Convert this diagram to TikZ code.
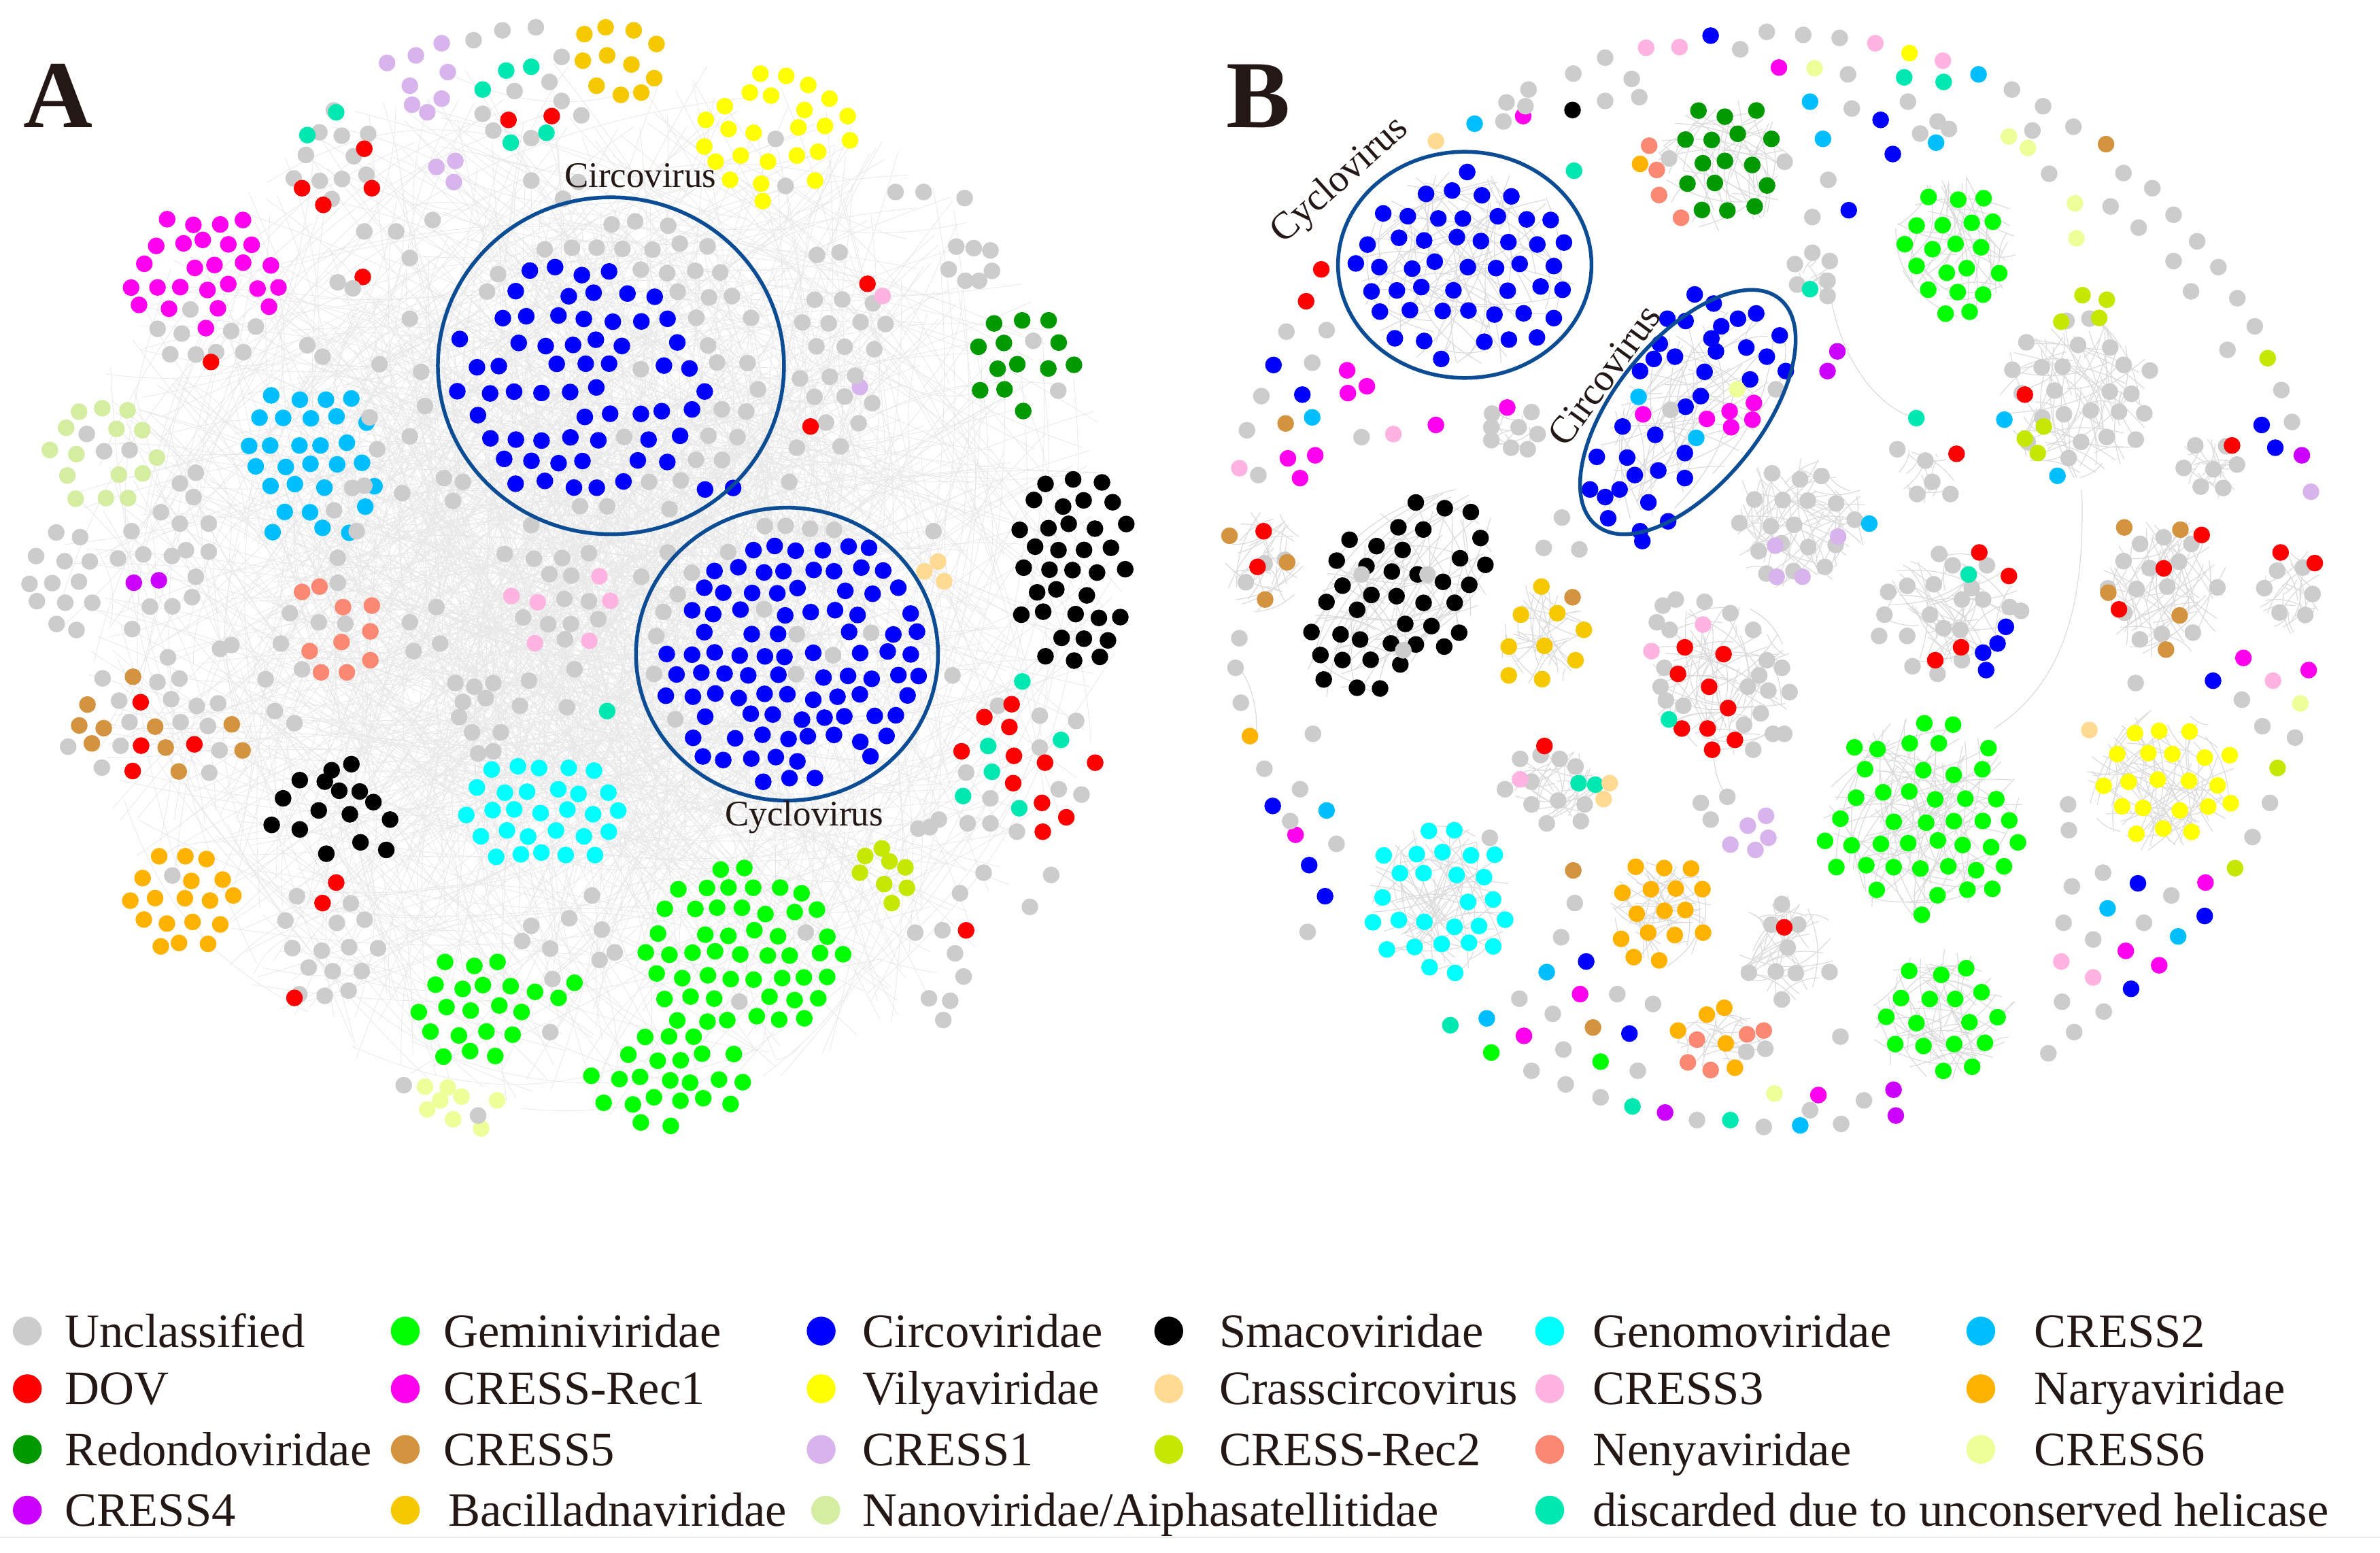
\documentclass[tikz,border=0pt]{standalone}
\usepackage{fontspec}
\setmainfont{Liberation Serif}
\definecolor{cgray}{HTML}{CCCCCC}
\definecolor{cred}{HTML}{FF0000}
\definecolor{cdgreen}{HTML}{009900}
\definecolor{cpurple}{HTML}{CC00FF}
\definecolor{cgreen}{HTML}{00FF00}
\definecolor{cmag}{HTML}{FF00EE}
\definecolor{cbrown}{HTML}{D4933F}
\definecolor{cgold}{HTML}{F5C800}
\definecolor{cblue}{HTML}{0000FF}
\definecolor{cyellow}{HTML}{FFFF00}
\definecolor{clav}{HTML}{D8B4EC}
\definecolor{clgreen}{HTML}{D4EDA0}
\definecolor{cblack}{HTML}{000000}
\definecolor{clorange}{HTML}{FFDA90}
\definecolor{cyg}{HTML}{C4E800}
\definecolor{ccyan}{HTML}{00FFFF}
\definecolor{cpink}{HTML}{FFB3E0}
\definecolor{csalmon}{HTML}{FA8872}
\definecolor{cteal}{HTML}{00E8B2}
\definecolor{clblue}{HTML}{00BFFF}
\definecolor{corange}{HTML}{FFB300}
\definecolor{clyellow}{HTML}{EEFF99}
\definecolor{ring}{HTML}{0B4C95}
\definecolor{txt}{HTML}{231815}
\newcommand\dotr{11}
\def\bix{0}\def\biy{0}\def\birx{5000}\def\biry{5000}
\def\bcolT{cred}\def\bpT{0}
\newcommand\setin[4]{\gdef\bix{#1}\gdef\biy{#2}\gdef\birx{#3}\gdef\biry{#4}}
\newcommand\noin{\gdef\bix{0}\gdef\biy{0}\gdef\birx{5000}\gdef\biry{5000}}
\newcommand\blob[9]{%
 \pgfmathtruncatemacro\bnx{#3/#5+1}%
 \pgfmathtruncatemacro\bny{#4/(#5*0.866)+1}%
 \pgfmathtruncatemacro\bmx{-\bnx}%
 \pgfmathtruncatemacro\bmy{-\bny}%
 \pgfmathsetmacro\bth{1-\bpT}%
 \foreach \j in {\bmy,...,\bny}{%
  \foreach \i in {\bmx,...,\bnx}{%
   \pgfmathsetmacro\bpx{#1+(\i+0.5*mod(abs(\j),2))*#5+(rnd-0.5)*#5*0.3}%
   \pgfmathsetmacro\bpy{#2+\j*#5*0.866+(rnd-0.5)*#5*0.3}%
   \pgfmathsetmacro\bins{((\bpx-#1)/#3)^2+((\bpy-#2)/#4)^2}%
   \pgfmathsetmacro\binn{((\bpx-\bix)/\birx)^2+((\bpy-\biy)/\biry)^2}%
   \pgfmathsetmacro\brd{rnd}%
   \pgfmathsetmacro\brc{rnd}%
   \ifdim\bins pt<1pt
    \ifdim\brd pt<#6pt
     \ifdim\binn pt<1pt
      \ifdim\brc pt<#8pt
       \fill[#7] (\bpx,\bpy) circle (\dotr);
      \else
       \ifdim\brc pt>\bth pt
        \fill[\bcolT] (\bpx,\bpy) circle (\dotr);
       \else
        \fill[#9] (\bpx,\bpy) circle (\dotr);
       \fi
      \fi
     \else
      \fill[#9] (\bpx,\bpy) circle (\dotr);
     \fi
    \fi
   \fi
  }}}
\newcommand\hz[6]{%
 \foreach \k in {1,...,#5}{%
  \pgfmathsetmacro\haa{rnd*360}\pgfmathsetmacro\hra{sqrt(rnd)}%
  \pgfmathsetmacro\hab{rnd*360}\pgfmathsetmacro\hrb{sqrt(rnd)}%
  \draw[#6] ({#1+#3*\hra*cos(\haa)},{#2+#4*\hra*sin(\haa)}) to ({#1+#3*\hrb*cos(\hab)},{#2+#4*\hrb*sin(\hab)});
 }}
\newcommand\dotlist[2]{\foreach \xx/\yy in {#2}{\fill[#1] (\xx,\yy) circle (\dotr);}}
\newcommand\leg[6]{\fill[#5] (#2,#4) circle (9.5); \node[lg] (#1) at (#3,#4+10.5) {#6};}
\tikzset{
 lg/.style={anchor=base west, inner sep=0pt, font=\fontsize{18}{20}\selectfont, text=txt},
 hzA/.style={draw=black!9, line width=0.2pt, bend left=22},
 hzB/.style={draw=black!14, line width=0.3pt, bend left=18},
 ringline/.style={draw=ring, line width=1.4pt},
 vlab/.style={inner sep=0pt, text=txt, font=\fontsize{13.5}{15}\selectfont},
 panel/.style={inner sep=0pt, anchor=base west, text=txt, font=\fontsize{36}{40}\selectfont\bfseries}
}
\begin{document}
\begin{tikzpicture}[x=0.02cm,y=-0.02cm]
\pgfmathsetseed{7}
\fill[white] (0,0) rectangle (1568,1023);
\path[use as bounding box] (0,0) rectangle (1568,1023);
% ================= PANEL A =================
\begin{scope}[scale=0.5]
\hz{780}{770}{700}{700}{900}{hzA}
\hz{780}{720}{450}{450}{450}{hzA}
% CRESS1, top
\dotlist{clav}{510/83,548/73,582/57,590/95,540/113,582/130,543/138,563/148,575/220,600/212,598/240,1133/510}
\dotlist{cgray}{624/53,662/40,706/36,678/120,724/108,740/133,636/150,650/172,700/182,766/152,700/238,742/262,762/240,1022/183,1035/245,740/75}
\dotlist{cteal}{667/93,700/88,636/118,673/188,720/175,800/937}
\dotlist{cred}{670/158,727/153}
\dotlist{cgold}{770/45,798/36,835/40,865/58,800/73,832/85,768/80,862/103,786/113,818/125,845/122}
\dotlist{cyellow}{1002/97,1036/100,1065/112,1093/130,955/140,988/122,1016/126,1060/145,1117/153,930/158,960/170,993/175,1052/168,1087/166,1120/185,928/193,976/205,1012/213,1050/205,1078/200,943/213,962/237,1003/242,1074/238,1005/265}
% Circovirus
\setin{755}{500}{178}{155}\blob{805}{482}{210}{206}{36}{0.8}{cblue}{0.88}{cgray}\noin
\dotlist{cblue}{929/645,966/643}
% Cyclovirus
\setin{1062}{885}{190}{185}\blob{1037}{862}{182}{176}{32}{0.93}{cblue}{0.96}{cgray}\noin
% Redondoviridae
\blob{1345}{483}{72}{72}{35}{0.95}{cdgreen}{0.82}{cgray}
% Smacoviridae
\blob{1413}{752}{82}{135}{34}{0.97}{cblack}{1}{cblack}
% red/teal group
\dotlist{cgray}{1315/930,1370/943,1418/950,1370/985,1305/1052,1275/1085,1340/1096,1395/1040,1425/1047,1273/1018,1305/1085}
\dotlist{cred}{1297/945,1333/928,1330/958,1267/990,1336/996,1377/1005,1443/1005,1335/1032,1373/1058,1405/1077,1374/1096}
\dotlist{cteal}{1347/898,1302/983,1307/1017,1269/1049,1343/1065,1398/975}
\dotlist{clorange}{1218/753,1236/740,1244/766}
\dotlist{cyg}{1140/1128,1162/1118,1172/1135,1193/1143,1133/1150,1165/1165,1195/1170,1175/1190}
\blob{1238}{1285}{55}{70}{34}{0.7}{cgray}{1}{cgray}
\dotlist{cred}{1273/1226}
% Geminiviridae
\blob{978}{1258}{136}{116}{33}{0.97}{cgreen}{0.95}{cgray}
\blob{880}{1422}{120}{62}{33}{0.95}{cgreen}{0.95}{cgray}
\blob{622}{1330}{76}{84}{34}{0.95}{cgreen}{0.95}{cgray}
\dotlist{cgreen}{705/1307,736/1315,757/1295}
\dotlist{clyellow}{560/1432,590/1433,580/1450,563/1462,597/1475,634/1487,655/1450,608/1445}
\dotlist{cgray}{532/1430,630/1470}
% Genomoviridae
\blob{715}{1070}{103}{84}{33}{0.97}{ccyan}{1}{ccyan}
\dotlist{cgray}{700/1220,688/1240,725/1250,780/1180,793/1225,810/1255,790/1265,725/1360,750/1210,728/1290}
% small black group
\dotlist{cblack}{395/1028,437/1015,463/1007,428/1030,447/1042,474/1043,492/1057,373/1052,420/1068,461/1073,514/1080,358/1087,395/1093,475/1110,509/1120,430/1125}
\blob{425}{1248}{85}{92}{36}{0.85}{cgray}{1}{cgray}
\dotlist{cred}{443/1163,425/1190,388/1315}
% Naryaviridae
\blob{240}{1185}{75}{75}{33}{0.95}{corange}{0.93}{cgray}
% CRESS5
\def\bcolT{cred}\def\bpT{0.12}
\blob{205}{955}{125}{92}{34}{0.92}{cbrown}{0.3}{cgray}
\def\bpT{0}
% Nanoviridae
\blob{135}{598}{85}{72}{34}{0.97}{clgreen}{0.93}{cgray}
% CRESS4 region
\setin{205}{785}{45}{40}\blob{140}{765}{118}{80}{35}{0.8}{cpurple}{0.9}{cgray}\noin
\dotlist{cgray}{237/637,258/623,255/655,237/690,275/690,212/675,245/725,275/727,258/760,253/787,290/855,305/850}
% CRESS-Rec1
\setin{265}{350}{125}{90}\blob{270}{378}{113}{108}{33}{0.95}{cmag}{0.95}{cgray}\noin
\dotlist{cred}{278/477}
% top left group
\blob{435}{205}{70}{60}{35}{0.75}{cgray}{1}{cgray}
\dotlist{cred}{398/248,426/270,480/196,490/248,478/365}
\dotlist{cteal}{443/148,405/178}
\dotlist{cgray}{445/372,465/380}
% CRESS2
\blob{410}{612}{90}{116}{34}{0.95}{clblue}{0.92}{cgray}
% Nenyaviridae
\dotlist{cgray}{382/808,370/848,398/882,445/768,420/820,455/822,362/937,388/953,350/895}
\dotlist{csalmon}{398/780,421/773,452/800,490/798,408/858,450/846,488/832,423/886,457/886,488/870}
% CRESS3
\blob{740}{790}{70}{76}{33}{0.9}{cpink}{0.6}{cgray}
% scattered gray
\dotlist{cgray}{555/490,540/575,530/650,585/630,610/635,597/660,665/730,700/692,880/728,845/760,540/820,575/800,545/858,580/848,600/900,625/905,650/900,610/925,640/920,605/945,622/965,660/965,685/930,650/990,630/993,697/897,747/932,757/882,480/305,522/305,570/290,540/340,405/455,425/470,500/480,487/550,497/592,480/640,470/700,445/735,1040/635,1050/590,1180/253,1217/253,1271/261,1260/325,1283/327,1305/330,1250/355,1272/370,1290/370,1307/357,1255/890,1225/1090,1210/1092,1237/1080,1296/1150,1385/1153,1357/1195,1265/1177,1230/700,540/420,560/535}
\blob{1110}{462}{68}{150}{38}{0.65}{cgray}{1}{cgray}
\dotlist{cred}{1143/374,1068/562}
\dotlist{cpink}{1163/390}
% rings and labels
\draw[ringline] (805,482) ellipse [x radius=228, y radius=222];
\draw[ringline] (1037,862) ellipse [x radius=199, y radius=193];
\node[vlab, anchor=base west] (circA) at (743,247) {Circovirus};
\node[vlab, anchor=base west] (cycA) at (955,1088) {Cyclovirus};
\node[panel] (labA) at (30,168) {A};
\end{scope}
% ================= PANEL B =================
\begin{scope}[shift={(784,0)},scale=0.5]
% hazes
\hz{365}{350}{150}{135}{80}{hzB}
\begin{scope}[rotate around={51:(656,543)}]\hz{656}{543}{180}{85}{60}{hzB}\end{scope}
\hz{700}{215}{90}{90}{45}{hzB}
\hz{1010}{325}{85}{95}{45}{hzB}
\hz{1170}{520}{105}{110}{70}{hzB}
\hz{800}{690}{95}{90}{60}{hzB}
\begin{scope}[rotate around={50:(275,785)}]\hz{275}{785}{165}{100}{70}{hzB}\end{scope}
\hz{95}{740}{55}{70}{30}{hzB}
\hz{465}{835}{60}{70}{30}{hzB}
\hz{700}{895}{95}{105}{60}{hzB}
\hz{1000}{805}{95}{80}{50}{hzB}
\hz{1345}{615}{45}{45}{20}{hzB}
\hz{1285}{775}{85}{95}{50}{hzB}
\hz{1450}{775}{45}{60}{25}{hzB}
\hz{1280}{1030}{100}{95}{70}{hzB}
\hz{965}{1080}{135}{135}{90}{hzB}
\hz{990}{1340}{100}{90}{55}{hzB}
\hz{330}{1185}{95}{105}{60}{hzB}
\hz{620}{1203}{70}{72}{40}{hzB}
\hz{785}{1250}{68}{70}{35}{hzB}
\hz{700}{1370}{60}{40}{25}{hzB}
\hz{480}{1035}{65}{50}{30}{hzB}
\hz{420}{565}{40}{30}{15}{hzB}
\hz{820}{362}{30}{30}{10}{hzB}
\hz{970}{625}{40}{40}{15}{hzB}
\draw[hzB, bend left=0] (1175,645) .. controls (1180,800) and (1150,900) .. (1060,960);
\draw[hzB, bend left=0] (845,395) .. controls (860,480) and (910,540) .. (957,551);
\draw[hzB, bend left=0] (65,880) .. controls (95,920) and (90,990) .. (79,970);
\draw[hzB, bend left=0] (690,990) .. controls (690,1020) and (700,1040) .. (708,1050);
% Cyclovirus B
\blob{365}{350}{148}{128}{37}{0.85}{cblue}{1}{cblue}
% Circovirus B
\dotlist{cblue}{665/388,690/400,629/420,653/423,722/420,746/413,777/442,687/446,619/453,693/463,733/458,639/470,611/473,593/489,678/490,738/500,785/489,673/522,653/536,570/562,613/573,536/602,576/603,652/597,617/620,652/630,527/645,566/645,604/662,551/683,593/700,630/687,596/713,760/470,700/430,586/626,547/655}
\dotlist{cmag}{597/546,681/552,711/542,713/563,743/531,741/553}
\dotlist{clblue}{591/523,667/577}
\dotlist{clyellow}{721/513}
\dotlist{cgray}{633/540,772/513}
% Redondoviridae B
\blob{708}{212}{78}{88}{36}{0.92}{cdgreen}{0.88}{cgray}
\dotlist{csalmon}{605/192,615/224,618/257,647/287}
\dotlist{corange}{593/216}
% Geminiviridae top
\blob{1010}{325}{85}{95}{35}{0.95}{cgreen}{1}{cgreen}
% CRESS-Rec2 cluster
\blob{1172}{515}{96}{105}{36}{0.85}{cgray}{1}{cgray}
\dotlist{cyg}{1176/389,1208/395,1148/424,1198/419,1100/578,1125/562,1117/597}
\dotlist{cred}{1100/520}
\dotlist{clblue}{1073/553,1143/627}
% middle gray cluster
\blob{800}{690}{90}{86}{36}{0.9}{cgray}{1}{cgray}
\dotlist{clav}{771/719,854/707,773/760,807/760}
\dotlist{clblue}{895/690}
% small groups
\dotlist{cgray}{398/545,450/543,397/563,433/563,458/572,397/580,423/590,445/592,797/348,820/333,843/344,800/375,840/370,840/390,932/592,969/607,978/635,958/651,1002/651}
\dotlist{cmag}{418/537}
\dotlist{cteal}{817/381}
% Smacoviridae B
\begin{scope}[rotate around={50:(275,785)}]\blob{275}{785}{160}{98}{36}{0.95}{cblack}{1}{cblack}\end{scope}
% left cluster
\blob{95}{742}{50}{62}{34}{0.75}{cgray}{1}{cgray}
\dotlist{cbrown}{52/706,128/741,99/790}
\dotlist{cred}{97/700,89/747}
% gold cluster
\dotlist{cgold}{463/773,436/810,484/808,519/830,420/852,467/851,508/870,420/890,464/895}
\dotlist{cbrown}{504/787}
% red gray cluster
\dotlist{cgray}{623/798,640/790,678/793,712/808,742/830,760/870,780/880,750/890,735/905,762/910,790/912,752/940,768/967,783/967,742/988,730/955,625/880,620/905,627/923,650/930,615/820,632/830}
\dotlist{cred}{652/853,703/862,643/888,684/905,709/933,648/960,682/960,718/975,688/988}
\dotlist{cpink}{676/823,608/858}
\dotlist{cteal}{631/948}
% ring cluster
\dotlist{cgray}{920/780,945/772,980/770,1005/745,1050/745,1030/775,1045/790,1017/790,1080/800,1095/805,915/810,908/838,945/838,975/810,993/828,1015/830,952/878,985/888,1017/870,987/730}
\dotlist{cred}{1040/728,1079/759,982/870,1016/853}
\dotlist{cblue}{1075/826,1064/848,1045/860,1049/883}
\dotlist{cteal}{1026/757}
% right clusters
\blob{1345}{615}{40}{40}{32}{0.8}{cgray}{1}{cgray}
\dotlist{cred}{1373/587}
\blob{1285}{775}{80}{90}{36}{0.85}{cgray}{1}{cgray}
\dotlist{cbrown}{1231/695,1305/698,1210/781,1304/811,1286/856}
\dotlist{cred}{1333/705,1283/749,1224/803}
\blob{1450}{778}{42}{56}{34}{0.8}{cgray}{1}{cgray}
\dotlist{cred}{1437/728,1482/742}
% Vilyaviridae B
\blob{1280}{1030}{98}{92}{38}{0.95}{cyellow}{1}{cyellow}
\dotlist{clorange}{1185/962}
% Geminiviridae big
\blob{965}{1080}{132}{132}{37}{0.95}{cgreen}{1}{cgreen}
\blob{990}{1345}{95}{82}{37}{0.95}{cgreen}{1}{cgreen}
% Genomoviridae B
\blob{330}{1185}{95}{105}{36}{0.95}{ccyan}{1}{ccyan}
% Naryaviridae B
\blob{620}{1203}{70}{72}{36}{0.95}{corange}{1}{corange}
% gray with red
\blob{785}{1250}{66}{68}{36}{0.7}{cgray}{1}{cgray}
\dotlist{cred}{783/1222}
% salmon/orange group
\dotlist{corange}{681/1337,704/1328,643/1358,706/1375,718/1407}
\dotlist{csalmon}{734/1363,756/1358,668/1370,656/1400,686/1410}
\dotlist{cgray}{733/1386,758/1382}
% small mixed group
\dotlist{cgray}{435/1000,462/995,487/1000,508/1010,415/1040,450/1060,485/1055,520/1060,470/1085,515/1082,450/1030}
\dotlist{cred}{467/983}
\dotlist{cpink}{435/1027}
\dotlist{cteal}{512/1032,534/1034}
\dotlist{clorange}{553/1032,545/1053}
% lavender group
\dotlist{clav}{735/1088,759/1075,762/1104,712/1113,745/1120}
\dotlist{cgray}{673/1058,708/1050,686/1080}
% scattered singles
\dotlist{cpink}{601/63,645/62,903/57,992/80,268/572,65/617,1427/897,1148/1267,1190/1288}
\dotlist{cblue}{686/47,910/158,926/203,868/277,110/481,148/520,109/1062,157/1140,178/1181,1412/560,1430/590,1348/897,1249/1164,1337/1207,1240/1303,579/1362,522/1267}
\dotlist{cyellow}{948/70}
\dotlist{cmag}{776/89,439/153,207/488,233/509,208/518,129/604,165/600,145/630,324/560,139/1100,1388/867,1474/883,1338/1163,1233/1253,1277/1272,828/1443,440/1365,514/1310}
\dotlist{cpurple}{1465/600,927/1436,930/1470,626/1466,853/463,840/489}
\dotlist{clav}{1477/648}
\dotlist{clyellow}{823/90,1079/180,1104/195,1166/268,1168/314,1463/927,770/1441}
\dotlist{cteal}{941/102,993/108,506/225,712/1476,583/1458,343/1351,957/551}
\dotlist{clblue}{1039/98,817/134,834/183,983/188,375/163,161/550,180/1068,1209/1197,1302/1234,804/1483,391/1342,470/1281}
\dotlist{cblack}{504/145}
\dotlist{clorange}{324/186}
\dotlist{cbrown}{1207/190,126/558,531/1354,505/1147}
\dotlist{cred}{173/355,153/397,1010/598}
\dotlist{cyg}{1420/472,1433/1012,1377/1144}
\dotlist{corange}{79/970}
\dotlist{cgreen}{541/1399,397/1387}
\dotlist{cgray}{760/42,808/46,856/50,725/65,547/76,505/97,582/104,592/128,547/133,417/135,446/118,442/140,413/160,867/98,946/134,872/143,962/176,985/160,1000/170,1083/118,1124/140,1110/172,1164/167,1132/229,1230/228,1268/248,1213/272,1296/283,1250/300,1327/318,1296/344,1355/352,1319/384,1380/393,1403/430,1367/461,1438/514,1452/556,841/237,820/286,1386/922,1413/957,1456/972,1246/900,1423/1058,1400/1103,1157/1060,1158/1094,1162/1168,1203/1150,1293/1180,1151/1216,1190/1238,1257/1216,1149/1320,1204/1333,1165/1360,1131/1388,888/1450,858/1481,756/1485,668/1476,541/1446,495/1429,450/1411,492/1383,590/1411,610/1323,563/1310,478/1336,434/1316,489/1235,507/1190,127/437,180/435,161/478,94/522,75/567,226/576,90/626,65/841,60/880,67/926,98/1013,145/1040,193/1112,490/682,466/722,513/724,226/757,313/757,281/857,162/967,132/1082,395/1104,155/1228,857/1366,817/1463}
% rings and labels
\draw[ringline] (362,349) ellipse [x radius=167, y radius=149];
\draw[ringline, rotate around={51:(656,543)}] (656,543) ellipse [x radius=192, y radius=96];
\node[vlab, font=\fontsize{14.5}{16}\selectfont, rotate=42] (cycB) at (198,238) {Cyclovirus};
\node[vlab, font=\fontsize{14.5}{16}\selectfont, rotate=54] (circB) at (546,494) {Circovirus};
\node[panel] (labB) at (47,168) {B};
\end{scope}
% ================= LEGEND =================
\leg{l1}{18}{42.5}{877}{cgray}{Unclassified}
\leg{l2}{267}{292}{877}{cgreen}{Geminiviridae}
\leg{l3}{541}{568}{877}{cblue}{Circoviridae}
\leg{l4}{770}{803}{877}{cblack}{Smacoviridae}
\leg{l5}{1021}{1049}{877}{ccyan}{Genomoviridae}
\leg{l6}{1305}{1340}{877}{clblue}{CRESS2}
\leg{l7}{18}{42.5}{915}{cred}{DOV}
\leg{l8}{267}{292}{915}{cmag}{CRESS-Rec1}
\leg{l9}{541}{568}{915}{cyellow}{Vilyaviridae}
\leg{l10}{770}{803}{915}{clorange}{Crasscircovirus}
\leg{l11}{1021}{1049}{915}{cpink}{CRESS3}
\leg{l12}{1305}{1340}{915}{corange}{Naryaviridae}
\leg{l13}{18}{42.5}{955}{cdgreen}{Redondoviridae}
\leg{l14}{267}{292}{955}{cbrown}{CRESS5}
\leg{l15}{541}{568}{955}{clav}{CRESS1}
\leg{l16}{770}{803}{955}{cyg}{CRESS-Rec2}
\leg{l17}{1021}{1049}{955}{csalmon}{Nenyaviridae}
\leg{l18}{1305}{1340}{955}{clyellow}{CRESS6}
\leg{l19}{18}{42.5}{995}{cpurple}{CRESS4}
\leg{l20}{267}{295}{995}{cgold}{Bacilladnaviridae}
\leg{l21}{544}{568}{995}{clgreen}{Nanoviridae/Aiphasatellitidae}
\leg{l22}{1021}{1049}{995}{cteal}{discarded due to unconserved helicase}
\draw[black!8, line width=0.6pt] (0,1013) -- (1568,1013);
\end{tikzpicture}
\end{document}
